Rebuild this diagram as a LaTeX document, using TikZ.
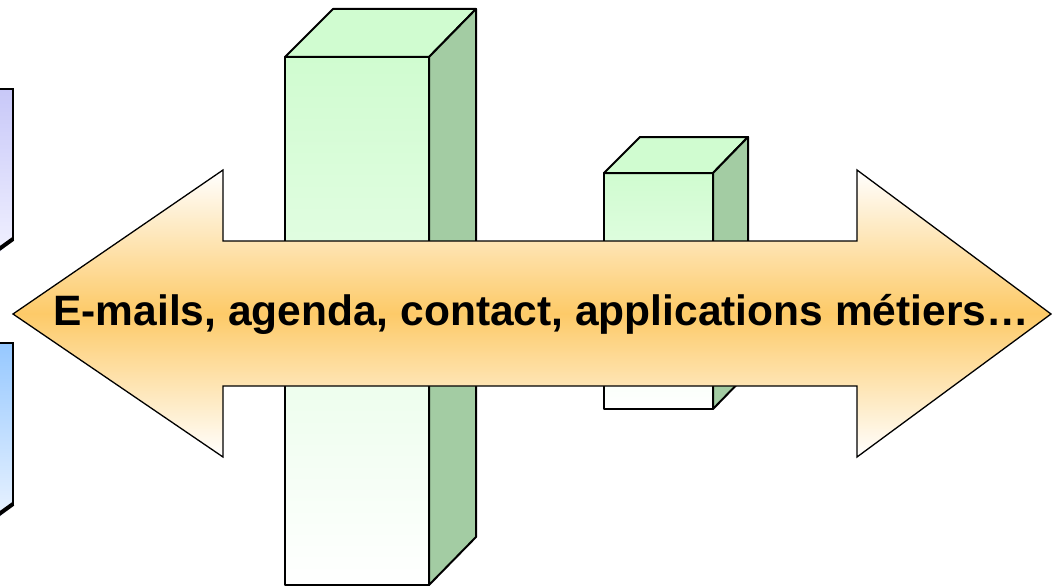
\documentclass[tikz,border=0pt]{standalone}
\usepackage{fontspec}
\setmainfont{Liberation Sans}
\definecolor{gA}{RGB}{208,252,208}
\definecolor{gB}{RGB}{163,204,163}
\definecolor{orA}{RGB}{253,202,104}
\definecolor{lavA}{RGB}{200,200,248}
\definecolor{lavB}{RGB}{240,240,255}
\definecolor{bluA}{RGB}{150,200,255}
\definecolor{bluB}{RGB}{232,242,255}
\begin{document}
\begin{tikzpicture}[x=1pt,y=-1pt,
  boxline/.style={draw=black,line width=2pt,line join=round},
  sideface/.style={boxline,fill=gB},
  topface/.style={boxline,fill=gA},
  frontface/.style={boxline,top color=gA,bottom color=white},
  bigarrow/.style={draw=black,line width=1.3pt,line join=miter,top color=white,bottom color=white,middle color=orA}]
\useasboundingbox (0,0) rectangle (1052,586);
\begin{scope}
\clip (0,0) rectangle (1052,586);
% left partial boxes
\shade[top color=lavA,bottom color=lavB] (-20,89) -- (13,89) -- (13,240) -- (0,252) -- (-20,252) -- cycle;
\draw[line width=2.5pt] (-5,89) -- (13,89) -- (13,240);
\draw[line width=4pt] (13,239) -- (-5,252);
\shade[top color=bluA,bottom color=bluB] (-20,343) -- (13,343) -- (13,505) -- (0,517) -- (-20,517) -- cycle;
\draw[line width=2.5pt] (-5,343) -- (13,343) -- (13,505);
\draw[line width=4pt] (13,504) -- (-5,517);
% tall box
\path[frontface] (285,57) rectangle (429,585);
\path[topface] (285,57) -- (333,9) -- (476,9) -- (429,57) -- cycle;
\path[sideface] (429,57) -- (476,9) -- (476,537) -- (429,585) -- cycle;
% small box
\path[frontface] (604,173) rectangle (713,409);
\path[topface] (604,173) -- (640,137) -- (748,137) -- (713,173) -- cycle;
\path[sideface] (713,173) -- (748,137) -- (748,373) -- (713,409) -- cycle;
% double arrow
\path[bigarrow] (13,314) -- (223,170) -- (223,241) -- (857,241) -- (857,170) -- (1051,314)
  -- (857,457) -- (857,386) -- (223,386) -- (223,457) -- cycle;
\end{scope}
\node[font=\fontsize{42.5}{50}\selectfont\bfseries] (label) at (541,314) {E-mails, agenda, contact, applications métiers…};
\end{tikzpicture}
\end{document}
